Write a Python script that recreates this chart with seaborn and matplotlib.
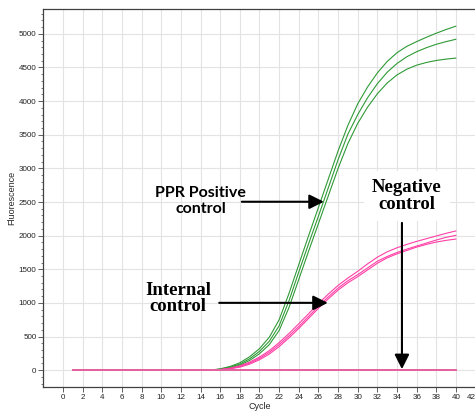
import matplotlib
matplotlib.use("Agg")
import matplotlib.pyplot as plt
from matplotlib.ticker import MultipleLocator
import seaborn as sns
import numpy as np
import pandas as pd

# ---- data ----
cycles = list(range(1, 41))
flat = [0] * 15

ppr_pos_1 = flat + [20, 55, 110, 200, 320, 490, 750, 1140, 1570, 2000, 2420, 2840, 3260, 3640,
                    3960, 4210, 4420, 4590, 4720, 4815, 4885, 4950, 5010, 5065, 5115]
ppr_pos_2 = flat + [15, 45, 90, 170, 280, 430, 660, 1030, 1460, 1880, 2290, 2710, 3130, 3510,
                    3800, 4050, 4260, 4430, 4560, 4660, 4735, 4795, 4845, 4885, 4920]
ppr_pos_3 = flat + [10, 35, 75, 145, 245, 380, 590, 930, 1350, 1770, 2180, 2590, 3000, 3370,
                    3670, 3910, 4110, 4270, 4390, 4475, 4535, 4575, 4605, 4625, 4640]

internal_1 = flat + [10, 30, 65, 120, 195, 290, 410, 545, 690, 840, 990, 1130, 1260, 1370,
                     1470, 1580, 1680, 1760, 1820, 1870, 1915, 1955, 1995, 2035, 2070]
internal_2 = flat + [8, 25, 55, 105, 175, 265, 380, 510, 650, 800, 950, 1090, 1220, 1330,
                     1420, 1520, 1620, 1690, 1750, 1800, 1845, 1890, 1935, 1975, 2005]
internal_3 = flat + [5, 20, 45, 90, 155, 240, 350, 480, 620, 770, 920, 1060, 1190, 1300,
                     1390, 1490, 1590, 1670, 1730, 1780, 1830, 1870, 1905, 1930, 1950]

negative_1 = [0] * 40
negative_2 = [0] * 40

x_ticks = list(range(0, 43, 2))
y_ticks = list(range(0, 5001, 500))

green = "#2f9a36"
pink = "#ff3fa6"
pink_neg = "#e4639f"

sns.set_style("white")
fig = plt.figure(figsize=(4.75, 4.12), dpi=100)
ax = fig.add_axes([0.0913, 0.0607, 0.910, 0.9175])

for vals in [ppr_pos_1, ppr_pos_2, ppr_pos_3]:
    sns.lineplot(x=cycles, y=vals, color=green, lw=0.8, ax=ax, estimator=None)
for vals in [internal_1, internal_2, internal_3]:
    sns.lineplot(x=cycles, y=vals, color=pink, lw=0.8, ax=ax, estimator=None)
for vals in [negative_1, negative_2]:
    sns.lineplot(x=cycles, y=vals, color=pink_neg, lw=1.4, ax=ax, estimator=None)

ax.set_xlim(-2, 42)
ax.set_ylim(-250, 5370)
ax.set_xticks(x_ticks)
ax.set_yticks(y_ticks)
ax.yaxis.set_minor_locator(MultipleLocator(100))
ax.grid(True, which="major", color="#e3e3e3", lw=0.8)
ax.set_axisbelow(True)

for lab in ax.get_xticklabels() + ax.get_yticklabels():
    lab.set_fontfamily("Liberation Sans")
    lab.set_fontsize(5.8)
    lab.set_color("#222222")
# last cycle label sits on the cut edge, keep it inside the picture
ax.get_xticklabels()[-1].set_horizontalalignment("right")

ax.tick_params(axis="both", which="major", length=3.5, width=0.6, color="#444444", pad=1.5, left=True, bottom=True)
ax.tick_params(axis="y", which="minor", length=1.8, width=0.5, color="#444444", left=True)
ax.set_xlabel("Cycle", fontdict=dict(family="Liberation Sans", size=6.5), labelpad=0.5)
ax.set_ylabel("Fluorescence", fontdict=dict(family="Liberation Sans", size=6.5), labelpad=2)

for side in ["top", "left", "bottom"]:
    ax.spines[side].set_visible(True)
    ax.spines[side].set_color("#404040")
    ax.spines[side].set_linewidth(0.9)
ax.spines["right"].set_visible(False)

arrow = dict(arrowstyle="-|>", color="black", lw=1.5, mutation_scale=22, shrinkA=0, shrinkB=0)

ax.text(14.0, 2520, "PPR Positive\ncontrol", ha="center", va="center", fontsize=11.5,
        fontweight="bold", family="Lato", linespacing=1.15, color="black")
ax.annotate("", xy=(26.55, 2504), xytext=(18.2, 2504), arrowprops=arrow)

ax.text(11.7, 1070, "Internal\ncontrol", ha="center", va="center", fontsize=13.5,
        fontweight="bold", family="Liberation Serif", linespacing=0.95, color="black")
ax.annotate("", xy=(26.95, 1001), xytext=(15.9, 1001), arrowprops=arrow)

ax.text(35.0, 2590, "Negative\ncontrol", ha="center", va="center", fontsize=13.5,
        fontweight="bold", family="Liberation Serif", linespacing=0.95, color="black",
        bbox=dict(boxstyle="square,pad=0.45", fc="white", ec="none"))
ax.annotate("", xy=(34.5, 15), xytext=(34.5, 2190), arrowprops=arrow)

fig.savefig("out.png", dpi=100)
